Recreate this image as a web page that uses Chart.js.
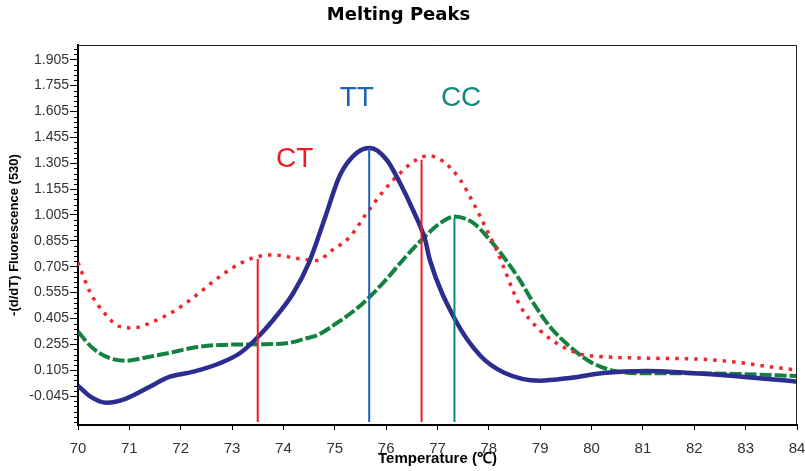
<!DOCTYPE html>
<html lang="en">
<head>
  <meta charset="UTF-8">
  <title>Melting Peaks</title>
  <script src="https://cdn.jsdelivr.net/npm/chart.js"></script>
  <style>
    body { margin: 0; background: #fff; }
    #chart { display: block; }
  </style>
</head>
<body>
  <canvas id="chart" width="805" height="471"></canvas>

  <script>
    // Temperatures (°C) and -(d/dT) values
    const ttTemps = [70.0, 70.25, 70.56, 70.95, 71.34, 71.79, 72.25, 72.76, 73.15, 73.48, 73.8, 74.19, 74.5, 74.8, 75.1, 75.43, 75.69, 76.01, 76.27, 76.52, 76.76, 76.85, 77.34, 77.83, 78.3, 78.99, 79.58, 80.22, 81.07, 81.85, 82.83, 84.0];
    const ttValues = [0.015, -0.05, -0.084, -0.058, 0.0, 0.067, 0.096, 0.145, 0.203, 0.29, 0.396, 0.551, 0.73, 0.98, 1.235, 1.365, 1.393, 1.325, 1.19, 1.035, 0.86, 0.745, 0.40, 0.19, 0.09, 0.044, 0.06, 0.088, 0.10, 0.09, 0.07, 0.038];

    const ctTemps = [70.0, 70.23, 70.49, 70.82, 71.07, 71.46, 71.85, 72.24, 72.63, 73.02, 73.41, 73.8, 74.32, 74.67, 74.9, 75.3, 75.62, 75.94, 76.27, 76.59, 76.82, 77.11, 77.44, 77.7, 77.96, 78.15, 78.6, 78.99, 79.38, 79.77, 80.22, 81.2, 82.17, 82.82, 83.47, 84.0];
    const ctValues = [0.73, 0.56, 0.444, 0.357, 0.35, 0.386, 0.444, 0.524, 0.618, 0.70, 0.756, 0.773, 0.75, 0.74, 0.79, 0.88, 1.015, 1.14, 1.247, 1.325, 1.348, 1.315, 1.209, 1.073, 0.918, 0.802, 0.483, 0.338, 0.251, 0.199, 0.183, 0.174, 0.168, 0.151, 0.125, 0.105];

    const ccTemps = [70.0, 70.29, 70.62, 70.95, 71.34, 71.79, 72.24, 72.76, 73.54, 74.06, 74.45, 74.67, 75.0, 75.5, 76.0, 76.33, 76.69, 77.05, 77.34, 77.7, 78.02, 78.28, 78.6, 78.87, 79.19, 79.58, 79.97, 80.42, 81.07, 81.85, 82.82, 84.0];
    const ccValues = [0.328, 0.232, 0.174, 0.16, 0.18, 0.206, 0.235, 0.251, 0.255, 0.261, 0.29, 0.309, 0.37, 0.48, 0.63, 0.745, 0.86, 0.957, 0.996, 0.957, 0.86, 0.764, 0.628, 0.493, 0.357, 0.241, 0.154, 0.102, 0.087, 0.087, 0.083, 0.071];

    // Peak markers (Tm) and their heights
    const peakNames = ['CT', 'TT', 'CT', 'CC'];
    const peakTemps = [73.5, 75.67, 76.69, 77.33];
    const peakTops = [0.75, 1.393, 1.325, 0.99];
    const peakBase = -0.196;

    // Genotype labels (name, temperature, value where the text sits)
    const labelNames = ['CT', 'TT', 'CC'];
    const labelTemps = [74.22, 75.43, 77.46];
    const labelValues = [1.33, 1.68, 1.68];

    // Y axis tick labels
    const yTickValues = [-0.045, 0.105, 0.255, 0.405, 0.555, 0.705, 0.855, 1.005, 1.155, 1.305, 1.455, 1.605, 1.755, 1.905];

    const FONT = '"Liberation Sans", Arial, sans-serif';
    const peakColors = { CT: '#ec1c24', TT: '#1f62b8', CC: '#0f8a7a' };

    function toPoints(xs, ys) {
      return xs.map((x, i) => ({ x: x, y: ys[i] }));
    }

    const peakDatasets = peakTemps.map((t, i) => ({
      label: peakNames[i] + ' Tm',
      data: [{ x: t, y: peakBase }, { x: t, y: peakTops[i] }],
      borderColor: peakColors[peakNames[i]],
      borderWidth: 2,
      pointRadius: 0,
      order: 0
    }));

    // Box round the plot, minor y ticks and the genotype labels
    const extras = {
      id: 'extras',
      afterDraw(chart) {
        const { ctx, chartArea: a, scales } = chart;
        ctx.save();
        ctx.strokeStyle = '#222';
        ctx.lineWidth = 1;
        ctx.beginPath();
        ctx.moveTo(a.left, a.top + 0.5);
        ctx.lineTo(a.right - 0.5, a.top + 0.5);
        ctx.lineTo(a.right - 0.5, a.bottom);
        ctx.stroke();

        // minor ticks every 0.03
        const y = scales.y;
        ctx.strokeStyle = '#000';
        ctx.beginPath();
        for (let v = -0.195; v < y.max; v += 0.03) {
          const isMajor = yTickValues.some(m => Math.abs(m - v) < 0.001);
          if (isMajor || v < y.min) continue;
          const py = Math.round(y.getPixelForValue(v)) + 0.5;
          ctx.moveTo(a.left - 4, py);
          ctx.lineTo(a.left, py);
        }
        ctx.stroke();

        ctx.font = '28px ' + FONT;
        ctx.textAlign = 'center';
        ctx.textBaseline = 'middle';
        labelNames.forEach((name, i) => {
          ctx.fillStyle = peakColors[name];
          ctx.fillText(name, scales.x.getPixelForValue(labelTemps[i]), y.getPixelForValue(labelValues[i]));
        });
        ctx.restore();
      }
    };

    new Chart(document.getElementById('chart'), {
      type: 'line',
      data: {
        datasets: [
          ...peakDatasets,
          {
            label: 'TT',
            data: toPoints(ttTemps, ttValues),
            borderColor: '#2b2e8e',
            borderWidth: 4.5,
            pointRadius: 0,
            cubicInterpolationMode: 'monotone',
            order: 1
          },
          {
            label: 'CT',
            data: toPoints(ctTemps, ctValues),
            borderColor: '#f0262a',
            borderWidth: 3.5,
            borderDash: [3.5, 6],
            pointRadius: 0,
            cubicInterpolationMode: 'monotone',
            order: 2
          },
          {
            label: 'CC',
            data: toPoints(ccTemps, ccValues),
            borderColor: '#13813f',
            borderWidth: 4,
            borderDash: [12, 3],
            pointRadius: 0,
            cubicInterpolationMode: 'monotone',
            order: 3
          }
        ]
      },
      options: {
        responsive: false,
        animation: false,
        events: [],
        layout: { padding: { right: 8 } },
        plugins: {
          legend: { display: false },
          tooltip: { enabled: false },
          title: {
            display: true,
            text: 'Melting Peaks',
            color: '#000',
            font: { family: '"DejaVu Sans", ' + FONT, size: 18, weight: 'bold' },
            padding: { top: 5, bottom: 18.4 }
          }
        },
        scales: {
          x: {
            type: 'linear',
            min: 70,
            max: 84,
            ticks: {
              stepSize: 1,
              color: '#333',
              font: { family: FONT, size: 15 },
              padding: 10,
              maxRotation: 0
            },
            grid: { drawOnChartArea: false, tickLength: 5, color: '#000' },
            border: { color: '#000', width: 2 },
            title: {
              display: true,
              text: 'Temperature (\u2103)',
              color: '#000',
              font: { family: FONT, size: 15, weight: 'bold' },
              padding: { top: 0, bottom: 3 }
            },
            afterFit(scale) {
              scale.height = 46;
              scale.paddingLeft = 0;
              scale.paddingRight = 0;
            }
          },
          y: {
            min: -0.213,
            max: 1.99,
            afterBuildTicks(scale) {
              scale.ticks = yTickValues.map(v => ({ value: v }));
            },
            ticks: {
              color: '#333',
              font: { family: FONT, size: 14 },
              padding: 1,
              callback: v => v.toFixed(3)
            },
            grid: { drawOnChartArea: false, tickLength: 8, color: '#000' },
            border: { color: '#000', width: 2 },
            title: {
              display: true,
              text: '-(d/dT) Fluorescence (530)',
              color: '#000',
              font: { family: FONT, size: 13, weight: 'bold' },
              padding: { top: 7, bottom: 0 }
            },
            afterFit(scale) { scale.width = 78; }
          }
        }
      },
      plugins: [extras]
    });
  </script>
</body>
</html>
